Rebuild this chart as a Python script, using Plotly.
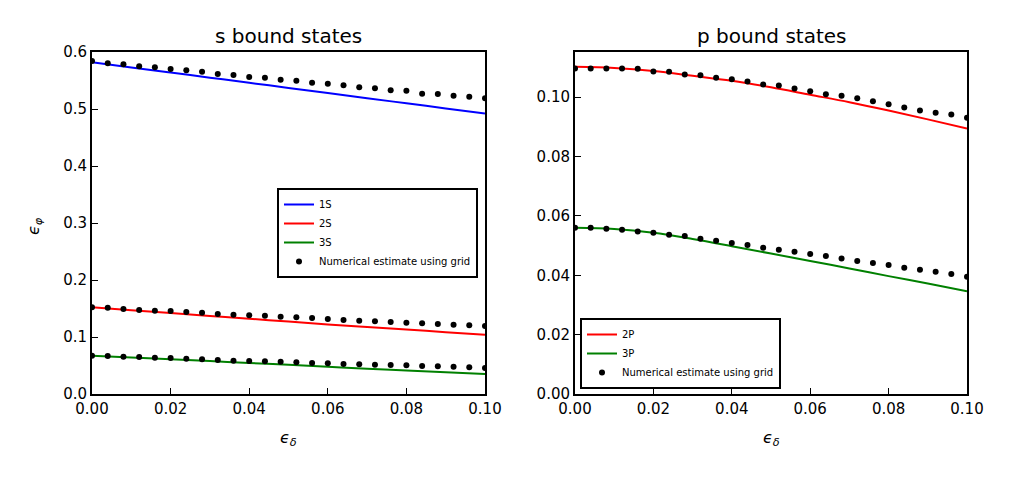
import plotly.graph_objects as go

# ---------------- data ----------------
grid_x = [0.000, 0.004, 0.008, 0.012, 0.016, 0.020, 0.024, 0.028, 0.032, 0.036,
          0.040, 0.044, 0.048, 0.052, 0.056, 0.060, 0.064, 0.068, 0.072, 0.076,
          0.080, 0.084, 0.088, 0.092, 0.096, 0.100]

line_x = [0.00, 0.01, 0.02, 0.03, 0.04, 0.05, 0.06, 0.07, 0.08, 0.09, 0.10]

s1_line = [0.582, 0.573, 0.564, 0.555, 0.546, 0.537, 0.528, 0.519, 0.510, 0.501, 0.492]
s2_line = [0.152, 0.147, 0.142, 0.137, 0.132, 0.127, 0.122, 0.1175, 0.113, 0.1085, 0.104]
s3_line = [0.0673, 0.0641, 0.0610, 0.0577, 0.0545, 0.0511, 0.0478, 0.0445, 0.0413, 0.0381, 0.0350]

s1_num = [0.5842, 0.5801, 0.5784, 0.5749, 0.5731, 0.5702, 0.5678, 0.5655, 0.5614, 0.5596,
          0.5561, 0.5550, 0.5515, 0.5497, 0.5462, 0.5444, 0.5415, 0.5380, 0.5363, 0.5328,
          0.5322, 0.5269, 0.5263, 0.5234, 0.5216, 0.5187]
s2_num = [0.1520, 0.1515, 0.1491, 0.1474, 0.1462, 0.1456, 0.1439, 0.1427, 0.1404, 0.1392,
          0.1380, 0.1374, 0.1357, 0.1345, 0.1333, 0.1316, 0.1298, 0.1287, 0.1275, 0.1263,
          0.1251, 0.1240, 0.1228, 0.1216, 0.1205, 0.1193]
s3_num = [0.0673, 0.0667, 0.0655, 0.0649, 0.0637, 0.0632, 0.0620, 0.0608, 0.0596, 0.0585,
          0.0579, 0.0573, 0.0567, 0.0556, 0.0544, 0.0538, 0.0526, 0.0520, 0.0515, 0.0509,
          0.0503, 0.0491, 0.0485, 0.0480, 0.0468, 0.0456]

p2_line = [0.1102, 0.1098, 0.1088, 0.1072, 0.1055, 0.1033, 0.1008, 0.0983, 0.0955, 0.0925, 0.0894]
p3_line = [0.0560, 0.0556, 0.0543, 0.0522, 0.0498, 0.0473, 0.0448, 0.0423, 0.0397, 0.0372, 0.0346]

p2_num = [0.10965, 0.10965, 0.10965, 0.10965, 0.10954, 0.10864, 0.10853, 0.10763, 0.10741, 0.10651,
          0.10606, 0.10527, 0.10427, 0.10393, 0.10292, 0.10202, 0.10101, 0.10045, 0.09966, 0.09865,
          0.09764, 0.09652, 0.09551, 0.09472, 0.09416, 0.09304]
p3_num = [0.05600, 0.05600, 0.05567, 0.05533, 0.05477, 0.05432, 0.05365, 0.05320, 0.05230, 0.05163,
          0.05084, 0.05017, 0.04927, 0.04860, 0.04792, 0.04714, 0.04646, 0.04568, 0.04478, 0.04411,
          0.04343, 0.04254, 0.04186, 0.04119, 0.04040, 0.03951]

num_label = "Numerical estimate using grid"
FONT = "DejaVu Sans"

# layout geometry (pixels)
W, H = 1013, 478
L, R, T, B = 92, 1013 - 967, 52, 478 - 394
PW, PH = W - L - R, H - T - B


def px_x(p):
    return (p - L) / PW


def px_y(p):
    return (H - B - p) / PH


fig = go.Figure()

# ---- left: s states ----
for name, ys, col in [("1S", s1_line, "#0000ff"), ("2S", s2_line, "#ff0000"), ("3S", s3_line, "#008000")]:
    fig.add_trace(go.Scatter(x=line_x, y=ys, mode="lines", name=name,
                             line=dict(color=col, width=2, shape="spline"),
                             xaxis="x", yaxis="y", legend="legend"))
for i, ys in enumerate([s1_num, s2_num, s3_num]):
    fig.add_trace(go.Scatter(x=grid_x, y=ys, mode="markers", name=num_label,
                             marker=dict(color="black", size=6),
                             showlegend=(i == 0), legendgroup="num_s",
                             xaxis="x", yaxis="y", legend="legend"))

# ---- right: p states ----
for name, ys, col in [("2P", p2_line, "#ff0000"), ("3P", p3_line, "#008000")]:
    fig.add_trace(go.Scatter(x=line_x, y=ys, mode="lines", name=name,
                             line=dict(color=col, width=2, shape="spline"),
                             xaxis="x2", yaxis="y2", legend="legend2"))
for i, ys in enumerate([p2_num, p3_num]):
    fig.add_trace(go.Scatter(x=grid_x, y=ys, mode="markers", name=num_label,
                             marker=dict(color="black", size=6),
                             showlegend=(i == 0), legendgroup="num_p",
                             xaxis="x2", yaxis="y2", legend="legend2"))

ax_common = dict(showline=True, linecolor="black", linewidth=2, mirror=True,
                 ticks="inside", ticklen=6, tickwidth=1, tickcolor="black",
                 showgrid=False, zeroline=False, automargin=False,
                 tickfont=dict(family=FONT, size=15, color="black"))

xdom1 = [0, px_x(485)]
xdom2 = [px_x(575), 1]
xticks = [0, 0.02, 0.04, 0.06, 0.08, 0.1]


def ann(text, xp, yp, size, angle=0):
    return dict(text=text, x=px_x(xp), y=px_y(yp), xref="paper", yref="paper",
                xanchor="center", yanchor="middle", showarrow=False, textangle=angle,
                font=dict(family=FONT, size=size, color="black"))


fig.update_layout(
    width=W, height=H,
    margin=dict(l=L, r=R, t=T, b=B, autoexpand=False),
    paper_bgcolor="white", plot_bgcolor="white",
    font=dict(family=FONT, color="black"),
    xaxis=dict(domain=xdom1, range=[0, 0.1], tickvals=xticks, tickformat=".2f", anchor="y", **ax_common),
    yaxis=dict(domain=[0, 1], range=[0, 0.6], tickvals=[0, 0.1, 0.2, 0.3, 0.4, 0.5, 0.6],
               tickformat=".1f", anchor="x", **ax_common),
    xaxis2=dict(domain=xdom2, range=[0, 0.1], tickvals=xticks, tickformat=".2f", anchor="y2", **ax_common),
    yaxis2=dict(domain=[0, 1], range=[0, 0.1152], tickvals=[0, 0.02, 0.04, 0.06, 0.08, 0.1],
                tickformat=".2f", anchor="x2", **ax_common),
    legend=dict(x=px_x(478), y=px_y(188), xanchor="right", yanchor="top",
                bgcolor="white", bordercolor="black", borderwidth=2,
                font=dict(family=FONT, size=10, color="black"), tracegroupgap=0),
    legend2=dict(x=px_x(580), y=px_y(389), xanchor="left", yanchor="bottom",
                 bgcolor="white", bordercolor="black", borderwidth=2,
                 font=dict(family=FONT, size=10, color="black"), tracegroupgap=0),
    annotations=[
        ann("s bound states", (92 + 485) / 2, 36, 20),
        ann("p bound states", (575 + 967) / 2, 36, 20),
        ann("<i>ϵ</i><sub><i>δ</i></sub>", (92 + 485) / 2, 438, 16),
        ann("<i>ϵ</i><sub><i>δ</i></sub>", (575 + 967) / 2, 438, 16),
        ann("<i>ϵ</i><sub><i>φ</i></sub>", 34, 226, 16, angle=-90),
    ],
)

fig.write_html("out.html")
